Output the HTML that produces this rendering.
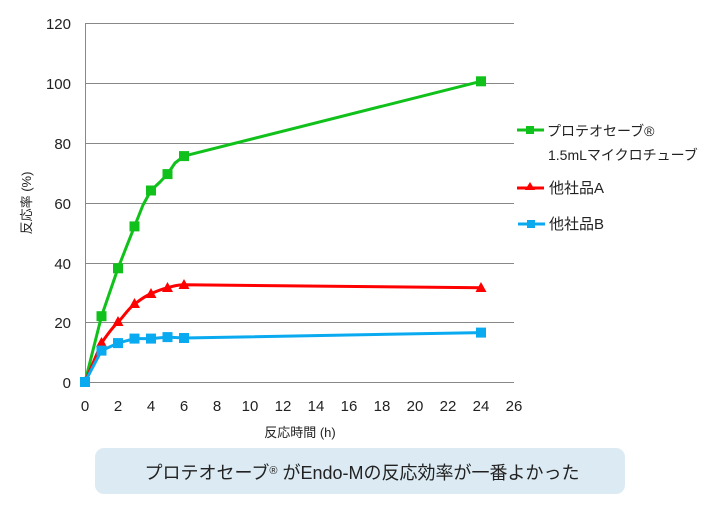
<!DOCTYPE html>
<html><head><meta charset="utf-8"><style>
body{margin:0;background:#fff;width:713px;height:500px;overflow:hidden}
text{font-family:"Liberation Sans","Noto Sans CJK JP",sans-serif;fill:#222}
</style></head><body>
<svg width="713" height="500" viewBox="0 0 713 500">
<g stroke="#888" stroke-width="1">
<line x1="85" y1="23.5" x2="514" y2="23.5"/>
<line x1="85" y1="83.5" x2="514" y2="83.5"/>
<line x1="85" y1="143.5" x2="514" y2="143.5"/>
<line x1="85" y1="203.5" x2="514" y2="203.5"/>
<line x1="85" y1="263.5" x2="514" y2="263.5"/>
<line x1="85" y1="322.5" x2="514" y2="322.5"/>
<line x1="85" y1="382.5" x2="514" y2="382.5"/>
<line x1="85.5" y1="23" x2="85.5" y2="382"/>
</g>
<g font-size="15" text-anchor="end">
<text x="71" y="29">120</text><text x="71" y="89">100</text><text x="71" y="149">80</text>
<text x="71" y="209">60</text><text x="71" y="269">40</text><text x="71" y="328">20</text><text x="71" y="388">0</text>
</g>
<g font-size="15" text-anchor="middle">
<text x="85" y="411">0</text><text x="118" y="411">2</text><text x="151" y="411">4</text><text x="184" y="411">6</text>
<text x="217" y="411">8</text><text x="250" y="411">10</text><text x="283" y="411">12</text><text x="316" y="411">14</text>
<text x="349" y="411">16</text><text x="382" y="411">18</text><text x="415" y="411">20</text><text x="448" y="411">22</text>
<text x="481" y="411">24</text><text x="514" y="411">26</text>
</g>
<text x="300" y="437" font-size="13" text-anchor="middle">反応時間 (h)</text>
<text transform="translate(31,203) rotate(-90)" font-size="13" text-anchor="middle">反応率 (%)</text>
<polyline fill="none" stroke="#11c11b" stroke-width="3" stroke-linejoin="round" points="85,382 101.5,316.2 118,268.3 134.5,226.4 143,205 151,190.5 160,182 167.5,174.1 175,163 184,156.1 481,81.3"/>
<path fill="none" stroke="#f00" stroke-width="3" d="M85,382 L101.5,343.1 C107,335 112,328 118,322.2 C124,316 128,309 134.5,304.2 C140,300 145,296 151,293.7 C157,291 162,289 167.5,287.8 C173,286 178,285 184,284.8 L481,287.8"/>
<polyline fill="none" stroke="#0aaaf0" stroke-width="3" stroke-linejoin="round" points="85,382 101.5,350.6 118,343.1 134.5,338.6 151,338.6 167.5,337.1 184,338 481,332.6"/>
<g fill="#11c11b">
<rect x="80" y="377" width="10" height="10"/><rect x="96.5" y="311.2" width="10" height="10"/><rect x="113" y="263.3" width="10" height="10"/>
<rect x="129.5" y="221.4" width="10" height="10"/><rect x="146" y="185.5" width="10" height="10"/><rect x="162.5" y="169.1" width="10" height="10"/>
<rect x="179" y="151.1" width="10" height="10"/><rect x="476" y="76.3" width="10" height="10"/>
</g>
<g fill="#f00">
<polygon points="101.5,337 96,347 107,347"/><polygon points="118,316 112.5,326 123.5,326"/><polygon points="134.5,298 129,308 140,308"/>
<polygon points="151,288 145.5,298 156.5,298"/><polygon points="167.5,282 162,292 173,292"/><polygon points="184,279 178.5,289 189.5,289"/>
<polygon points="481,282 475.5,292 486.5,292"/>
</g>
<g fill="#0aaaf0">
<rect x="80" y="377" width="10" height="10"/><rect x="96.5" y="345.6" width="10" height="10"/><rect x="113" y="338.1" width="10" height="10"/>
<rect x="129.5" y="333.6" width="10" height="10"/><rect x="146" y="333.6" width="10" height="10"/><rect x="162.5" y="332.1" width="10" height="10"/>
<rect x="179" y="333" width="10" height="10"/><rect x="476" y="327.6" width="10" height="10"/>
</g>
<line x1="517" y1="130" x2="544" y2="130" stroke="#11c11b" stroke-width="3"/><rect x="526" y="126" width="8" height="8" fill="#11c11b"/>
<text x="547" y="136" font-size="14">プロテオセーブ®</text>
<text x="548" y="160" font-size="14">1.5mLマイクロチューブ</text>
<line x1="517" y1="188" x2="544" y2="188" stroke="#f00" stroke-width="3"/><polygon points="530,182 525,190 535,190" fill="#f00"/>
<text x="549" y="193" font-size="15">他社品A</text>
<line x1="518" y1="224" x2="545" y2="224" stroke="#0aaaf0" stroke-width="3"/><rect x="527" y="220" width="8" height="8" fill="#0aaaf0"/>
<text x="549" y="229" font-size="15">他社品B</text>
<rect x="95" y="448" width="530" height="46" rx="9" fill="#dcebf3"/>
<text x="362" y="479" font-size="18" text-anchor="middle">プロテオセーブ<tspan font-size="11" dy="-5">®</tspan><tspan dy="5"> がEndo-Mの反応効率が一番よかった</tspan></text>
</svg>
</body></html>
